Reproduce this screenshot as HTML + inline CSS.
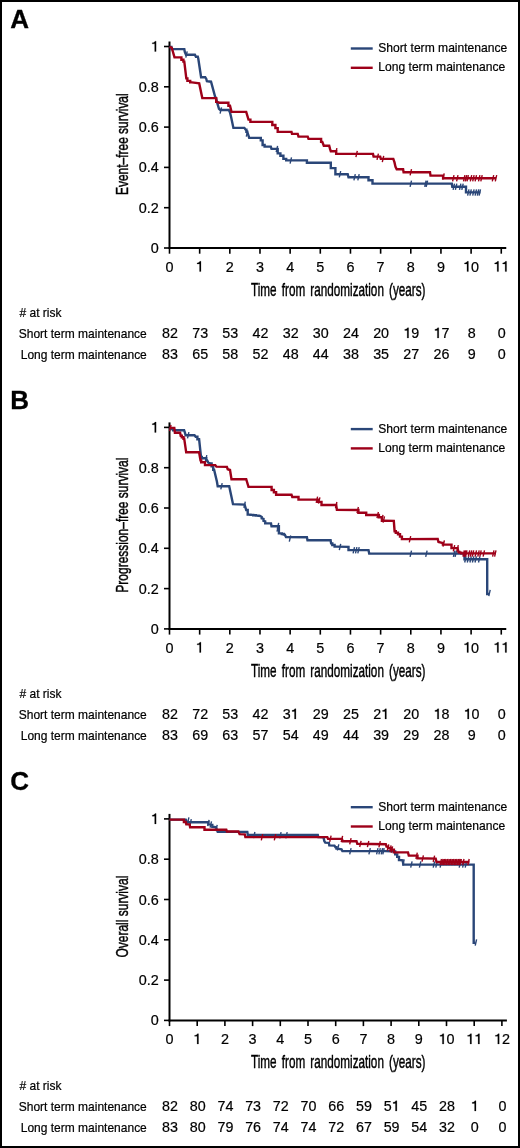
<!DOCTYPE html>
<html><head><meta charset="utf-8"><title>Survival curves</title>
<style>
html,body{margin:0;padding:0;background:#fff;}
body{width:520px;height:1148px;overflow:hidden;position:relative;}
svg{display:block;will-change:transform;}
.frame{position:absolute;left:0;top:0;width:520px;height:1148px;box-sizing:border-box;border:2px solid #000;}
text{font-family:"Liberation Sans", sans-serif;fill:#000;stroke:#000;stroke-width:0.2px;}
</style></head><body>
<svg width="520" height="1148" viewBox="0 0 520 1148">
<rect x="0" y="0" width="520" height="1148" fill="#fff"/>
<rect x="1" y="1" width="518" height="1146" fill="none" stroke="#000" stroke-width="2"/>
<text x="10.3" y="28" font-size="26" font-weight="bold" style="stroke-width:0.3px">A</text>
<line x1="350.8" x2="372.7" y1="48.5" y2="48.5" stroke="#2a4678" stroke-width="2.4"/>
<line x1="350.8" x2="372.7" y1="67.8" y2="67.8" stroke="#9e0019" stroke-width="2.4"/>
<text transform="translate(378.3,52.3) scale(1,1.11)" font-size="12.1">Short term maintenance</text>
<text transform="translate(378.3,71.3) scale(1,1.11)" font-size="12.1">Long term maintenance</text>
<line x1="169.5" x2="169.5" y1="41.5" y2="249" stroke="#000" stroke-width="2"/>
<line x1="168.5" x2="506.26" y1="248" y2="248" stroke="#000" stroke-width="2"/>
<line x1="164.0" x2="169.5" y1="248.00" y2="248.00" stroke="#000" stroke-width="1.6"/>
<text transform="translate(158.80,253.00) scale(1,1.04)" font-size="14.4" text-anchor="end">0</text>
<line x1="164.0" x2="169.5" y1="207.70" y2="207.70" stroke="#000" stroke-width="1.6"/>
<text transform="translate(158.80,212.70) scale(1,1.04)" font-size="14.4" text-anchor="end">0.2</text>
<line x1="164.0" x2="169.5" y1="167.40" y2="167.40" stroke="#000" stroke-width="1.6"/>
<text transform="translate(158.80,172.40) scale(1,1.04)" font-size="14.4" text-anchor="end">0.4</text>
<line x1="164.0" x2="169.5" y1="127.10" y2="127.10" stroke="#000" stroke-width="1.6"/>
<text transform="translate(158.80,132.10) scale(1,1.04)" font-size="14.4" text-anchor="end">0.6</text>
<line x1="164.0" x2="169.5" y1="86.80" y2="86.80" stroke="#000" stroke-width="1.6"/>
<text transform="translate(158.80,91.80) scale(1,1.04)" font-size="14.4" text-anchor="end">0.8</text>
<line x1="164.0" x2="169.5" y1="46.50" y2="46.50" stroke="#000" stroke-width="1.6"/>
<path transform="translate(150.79,51.50) scale(14.4,14.976)" d="M0.27,0 L0.37,0 L0.37,-0.69 L0.295,-0.69 C0.275,-0.63 0.21,-0.59 0.1,-0.58 L0.1,-0.51 L0.27,-0.51 Z" fill="#000" stroke="#000" stroke-width="0.0139"/>
<line x1="169.50" x2="169.50" y1="248" y2="253.7" stroke="#000" stroke-width="1.6"/>
<text transform="translate(169.50,271.60) scale(1,1.04)" font-size="14.4" text-anchor="middle">0</text>
<line x1="199.66" x2="199.66" y1="248" y2="253.7" stroke="#000" stroke-width="1.6"/>
<path transform="translate(195.66,271.60) scale(14.4,14.976)" d="M0.27,0 L0.37,0 L0.37,-0.69 L0.295,-0.69 C0.275,-0.63 0.21,-0.59 0.1,-0.58 L0.1,-0.51 L0.27,-0.51 Z" fill="#000" stroke="#000" stroke-width="0.0139"/>
<line x1="229.82" x2="229.82" y1="248" y2="253.7" stroke="#000" stroke-width="1.6"/>
<text transform="translate(229.82,271.60) scale(1,1.04)" font-size="14.4" text-anchor="middle">2</text>
<line x1="259.98" x2="259.98" y1="248" y2="253.7" stroke="#000" stroke-width="1.6"/>
<text transform="translate(259.98,271.60) scale(1,1.04)" font-size="14.4" text-anchor="middle">3</text>
<line x1="290.14" x2="290.14" y1="248" y2="253.7" stroke="#000" stroke-width="1.6"/>
<text transform="translate(290.14,271.60) scale(1,1.04)" font-size="14.4" text-anchor="middle">4</text>
<line x1="320.30" x2="320.30" y1="248" y2="253.7" stroke="#000" stroke-width="1.6"/>
<text transform="translate(320.30,271.60) scale(1,1.04)" font-size="14.4" text-anchor="middle">5</text>
<line x1="350.46" x2="350.46" y1="248" y2="253.7" stroke="#000" stroke-width="1.6"/>
<text transform="translate(350.46,271.60) scale(1,1.04)" font-size="14.4" text-anchor="middle">6</text>
<line x1="380.62" x2="380.62" y1="248" y2="253.7" stroke="#000" stroke-width="1.6"/>
<text transform="translate(380.62,271.60) scale(1,1.04)" font-size="14.4" text-anchor="middle">7</text>
<line x1="410.78" x2="410.78" y1="248" y2="253.7" stroke="#000" stroke-width="1.6"/>
<text transform="translate(410.78,271.60) scale(1,1.04)" font-size="14.4" text-anchor="middle">8</text>
<line x1="440.94" x2="440.94" y1="248" y2="253.7" stroke="#000" stroke-width="1.6"/>
<text transform="translate(440.94,271.60) scale(1,1.04)" font-size="14.4" text-anchor="middle">9</text>
<line x1="471.10" x2="471.10" y1="248" y2="253.7" stroke="#000" stroke-width="1.6"/>
<path transform="translate(463.09,271.60) scale(14.4,14.976)" d="M0.27,0 L0.37,0 L0.37,-0.69 L0.295,-0.69 C0.275,-0.63 0.21,-0.59 0.1,-0.58 L0.1,-0.51 L0.27,-0.51 Z" fill="#000" stroke="#000" stroke-width="0.0139"/>
<text transform="translate(471.10,271.60) scale(1,1.04)" font-size="14.4">0</text>
<line x1="501.26" x2="501.26" y1="248" y2="253.7" stroke="#000" stroke-width="1.6"/>
<path transform="translate(493.25,271.60) scale(14.4,14.976)" d="M0.27,0 L0.37,0 L0.37,-0.69 L0.295,-0.69 C0.275,-0.63 0.21,-0.59 0.1,-0.58 L0.1,-0.51 L0.27,-0.51 Z" fill="#000" stroke="#000" stroke-width="0.0139"/>
<path transform="translate(501.26,271.60) scale(14.4,14.976)" d="M0.27,0 L0.37,0 L0.37,-0.69 L0.295,-0.69 C0.275,-0.63 0.21,-0.59 0.1,-0.58 L0.1,-0.51 L0.27,-0.51 Z" fill="#000" stroke="#000" stroke-width="0.0139"/>
<text transform="translate(251,295.7) scale(0.64,1)" font-size="18.3" word-spacing="3" style="stroke-width:0.45px">Time from randomization (years)</text>
<text transform="translate(128,144.20) rotate(-90) scale(0.705,1)" font-size="17" style="stroke-width:0.45px" text-anchor="middle">Event&#8211;free survival</text>
<text transform="translate(19.5,316.5) scale(1,1.09)" font-size="12">&#35; at risk</text>
<text transform="translate(146.8,338.2) scale(1,1.09)" font-size="12" text-anchor="end">Short term maintenance</text>
<text transform="translate(146.8,358.9) scale(1,1.09)" font-size="12" text-anchor="end">Long term maintenance</text>
<text transform="translate(170.00,338.00) scale(1,1.04)" font-size="14.3" text-anchor="middle">82</text>
<text transform="translate(170.00,358.80) scale(1,1.04)" font-size="14.3" text-anchor="middle">83</text>
<text transform="translate(200.16,338.00) scale(1,1.04)" font-size="14.3" text-anchor="middle">73</text>
<text transform="translate(200.16,358.80) scale(1,1.04)" font-size="14.3" text-anchor="middle">65</text>
<text transform="translate(230.32,338.00) scale(1,1.04)" font-size="14.3" text-anchor="middle">53</text>
<text transform="translate(230.32,358.80) scale(1,1.04)" font-size="14.3" text-anchor="middle">58</text>
<text transform="translate(260.48,338.00) scale(1,1.04)" font-size="14.3" text-anchor="middle">42</text>
<text transform="translate(260.48,358.80) scale(1,1.04)" font-size="14.3" text-anchor="middle">52</text>
<text transform="translate(290.64,338.00) scale(1,1.04)" font-size="14.3" text-anchor="middle">32</text>
<text transform="translate(290.64,358.80) scale(1,1.04)" font-size="14.3" text-anchor="middle">48</text>
<text transform="translate(320.80,338.00) scale(1,1.04)" font-size="14.3" text-anchor="middle">30</text>
<text transform="translate(320.80,358.80) scale(1,1.04)" font-size="14.3" text-anchor="middle">44</text>
<text transform="translate(350.96,338.00) scale(1,1.04)" font-size="14.3" text-anchor="middle">24</text>
<text transform="translate(350.96,358.80) scale(1,1.04)" font-size="14.3" text-anchor="middle">38</text>
<text transform="translate(381.12,338.00) scale(1,1.04)" font-size="14.3" text-anchor="middle">20</text>
<text transform="translate(381.12,358.80) scale(1,1.04)" font-size="14.3" text-anchor="middle">35</text>
<path transform="translate(403.33,338.00) scale(14.3,14.872)" d="M0.27,0 L0.37,0 L0.37,-0.69 L0.295,-0.69 C0.275,-0.63 0.21,-0.59 0.1,-0.58 L0.1,-0.51 L0.27,-0.51 Z" fill="#000" stroke="#000" stroke-width="0.0140"/>
<text transform="translate(411.28,338.00) scale(1,1.04)" font-size="14.3">9</text>
<text transform="translate(411.28,358.80) scale(1,1.04)" font-size="14.3" text-anchor="middle">27</text>
<path transform="translate(433.49,338.00) scale(14.3,14.872)" d="M0.27,0 L0.37,0 L0.37,-0.69 L0.295,-0.69 C0.275,-0.63 0.21,-0.59 0.1,-0.58 L0.1,-0.51 L0.27,-0.51 Z" fill="#000" stroke="#000" stroke-width="0.0140"/>
<text transform="translate(441.44,338.00) scale(1,1.04)" font-size="14.3">7</text>
<text transform="translate(441.44,358.80) scale(1,1.04)" font-size="14.3" text-anchor="middle">26</text>
<text transform="translate(471.60,338.00) scale(1,1.04)" font-size="14.3" text-anchor="middle">8</text>
<text transform="translate(471.60,358.80) scale(1,1.04)" font-size="14.3" text-anchor="middle">9</text>
<text transform="translate(501.76,338.00) scale(1,1.04)" font-size="14.3" text-anchor="middle">0</text>
<text transform="translate(501.76,358.80) scale(1,1.04)" font-size="14.3" text-anchor="middle">0</text>
<path d="M169.5,46.9 L171.4,46.9 L171.4,49.1 L173.3,49.1 L184.3,49.1 L184.8,52.0 L186.0,54.8 L194.9,54.8 L195.9,56.8 L197.8,56.8 L198.3,58.7 L201.1,77.2 L205.2,77.2 L206.3,78.9 L206.9,81.2 L211.0,81.7 L211.5,83.4 L215.0,96.2 L216.1,98.4 L217.3,103.1 L219.0,108.9 L220.3,110.0 L228.8,110.0 L230.0,112.4 L231.1,116.9 L233.4,127.9 L244.4,127.9 L245.6,129.6 L246.4,129.6 L246.4,131.9 L247.3,131.9 L249.2,137.9 L260.0,137.9 L260.8,137.9 L260.8,140.4 L261.5,140.4 L262.6,140.4 L262.6,145.0 L263.8,145.0 L264.6,145.0 L264.6,146.6 L265.4,146.6 L270.8,146.6 L271.5,148.9 L276.2,148.9 L277.7,148.9 L277.7,153.4 L279.2,153.4 L280.4,153.4 L280.4,155.8 L281.5,155.8 L283.4,155.8 L283.4,158.9 L285.4,158.9 L286.2,158.9 L286.2,160.4 L287.0,160.4 L306.9,160.4 L306.9,162.7 L330.8,162.7 L330.8,168.1 L335.4,168.1 L335.4,174.2 L347.7,174.2 L348.5,177.2 L368.5,177.2 L368.5,180.2 L372.5,180.2 L372.5,183.6 L451.8,183.6 L452.3,186.8 L466.0,186.6 L466.0,192.4 L480.4,192.4" fill="none" stroke="#2a4678" stroke-width="2.4" stroke-linejoin="miter"/>
<path d="M185.8,57.6 L187.2,51.4 M220.1,113.6 L221.5,107.4 M246.3,136.6 L247.7,130.4 M276.2,152.1 L277.6,145.9 M290.1,163.6 L291.5,157.4 M339.3,177.4 L340.7,171.2 M353.9,180.4 L355.3,174.2 M357.8,180.4 L359.2,174.2 M410.1,186.8 L411.5,180.6 M424.7,186.8 L426.1,180.6 M426.2,186.8 L427.6,180.6 M453.1,189.8 L454.5,183.6 M455.4,189.8 L456.8,183.6 M459.5,189.8 L460.9,183.6 M461.8,189.8 L463.2,183.6 M467.6,195.6 L469.0,189.4 M469.9,195.6 L471.3,189.4 M472.7,195.6 L474.1,189.4 M475.1,195.6 L476.5,189.4 M477.3,195.6 L478.7,189.4 M479.1,195.6 L480.5,189.4" fill="none" stroke="#2a4678" stroke-width="1.4"/>
<path d="M169.5,46.9 L171.8,47.9 L174.5,57.4 L180.5,57.4 L181.4,57.4 L181.4,59.7 L182.4,59.7 L183.4,59.7 L183.4,61.6 L184.3,61.6 L186.3,78.4 L187.4,78.4 L187.4,80.9 L188.5,80.9 L190.2,80.9 L190.2,82.4 L192.0,82.4 L199.2,83.4 L202.3,98.1 L215.4,98.1 L216.2,98.1 L216.2,101.9 L217.0,101.9 L219.2,102.7 L226.9,102.7 L228.4,102.7 L228.4,105.8 L230.0,105.8 L231.5,111.9 L246.2,111.9 L248.5,119.6 L250.4,119.6 L250.4,121.9 L252.3,121.9 L270.8,121.9 L272.3,121.9 L272.3,125.0 L273.8,125.0 L275.4,125.0 L275.4,128.1 L276.9,128.1 L277.7,128.1 L277.7,131.9 L278.5,131.9 L291.5,131.9 L292.0,133.9 L297.7,133.9 L298.5,136.6 L307.7,136.6 L308.5,138.9 L320.0,138.9 L321.1,138.9 L321.1,141.9 L322.3,141.9 L323.8,145.8 L329.2,145.8 L330.0,148.9 L330.8,151.2 L335.4,151.2 L336.2,151.2 L336.2,153.9 L337.0,153.9 L373.0,153.9 L373.6,156.6 L380.2,156.6 L380.8,158.9 L393.3,158.9 L394.5,162.4 L395.5,166.9 L396.7,169.2 L403.1,169.2 L403.6,172.2 L430.0,172.2 L430.5,175.6 L442.3,175.6 L443.1,175.6 L443.1,178.2 L443.8,178.2 L496.0,178.2" fill="none" stroke="#9e0019" stroke-width="2.4" stroke-linejoin="miter"/>
<path d="M335.5,154.4 L336.9,148.2 M355.9,157.1 L357.3,150.9 M377.0,159.8 L378.4,153.6 M382.3,162.1 L383.7,155.9 M410.1,175.4 L411.5,169.2 M442.8,179.6 L444.2,173.4 M452.6,181.4 L454.0,175.2 M456.6,181.4 L458.0,175.2 M463.5,181.4 L464.9,175.2 M465.3,181.4 L466.7,175.2 M467.0,181.4 L468.4,175.2 M470.3,181.4 L471.7,175.2 M472.7,181.4 L474.1,175.2 M475.1,181.4 L476.5,175.2 M478.5,181.4 L479.9,175.2 M480.8,181.4 L482.2,175.2 M492.3,181.4 L493.7,175.2 M495.3,181.4 L496.7,175.2" fill="none" stroke="#9e0019" stroke-width="1.4"/>
<text x="10.3" y="408.9" font-size="26" font-weight="bold" style="stroke-width:0.3px">B</text>
<line x1="350.8" x2="372.7" y1="429.1" y2="429.1" stroke="#2a4678" stroke-width="2.4"/>
<line x1="350.8" x2="372.7" y1="448.40000000000003" y2="448.40000000000003" stroke="#9e0019" stroke-width="2.4"/>
<text transform="translate(378.3,432.90000000000003) scale(1,1.11)" font-size="12.1">Short term maintenance</text>
<text transform="translate(378.3,451.90000000000003) scale(1,1.11)" font-size="12.1">Long term maintenance</text>
<line x1="169.5" x2="169.5" y1="422.4" y2="629.9" stroke="#000" stroke-width="2"/>
<line x1="168.5" x2="506.26" y1="628.9" y2="628.9" stroke="#000" stroke-width="2"/>
<line x1="164.0" x2="169.5" y1="628.90" y2="628.90" stroke="#000" stroke-width="1.6"/>
<text transform="translate(158.80,633.90) scale(1,1.04)" font-size="14.4" text-anchor="end">0</text>
<line x1="164.0" x2="169.5" y1="588.60" y2="588.60" stroke="#000" stroke-width="1.6"/>
<text transform="translate(158.80,593.60) scale(1,1.04)" font-size="14.4" text-anchor="end">0.2</text>
<line x1="164.0" x2="169.5" y1="548.30" y2="548.30" stroke="#000" stroke-width="1.6"/>
<text transform="translate(158.80,553.30) scale(1,1.04)" font-size="14.4" text-anchor="end">0.4</text>
<line x1="164.0" x2="169.5" y1="508.00" y2="508.00" stroke="#000" stroke-width="1.6"/>
<text transform="translate(158.80,513.00) scale(1,1.04)" font-size="14.4" text-anchor="end">0.6</text>
<line x1="164.0" x2="169.5" y1="467.70" y2="467.70" stroke="#000" stroke-width="1.6"/>
<text transform="translate(158.80,472.70) scale(1,1.04)" font-size="14.4" text-anchor="end">0.8</text>
<line x1="164.0" x2="169.5" y1="427.40" y2="427.40" stroke="#000" stroke-width="1.6"/>
<path transform="translate(150.79,432.40) scale(14.4,14.976)" d="M0.27,0 L0.37,0 L0.37,-0.69 L0.295,-0.69 C0.275,-0.63 0.21,-0.59 0.1,-0.58 L0.1,-0.51 L0.27,-0.51 Z" fill="#000" stroke="#000" stroke-width="0.0139"/>
<line x1="169.50" x2="169.50" y1="628.9" y2="634.6" stroke="#000" stroke-width="1.6"/>
<text transform="translate(169.50,652.50) scale(1,1.04)" font-size="14.4" text-anchor="middle">0</text>
<line x1="199.66" x2="199.66" y1="628.9" y2="634.6" stroke="#000" stroke-width="1.6"/>
<path transform="translate(195.66,652.50) scale(14.4,14.976)" d="M0.27,0 L0.37,0 L0.37,-0.69 L0.295,-0.69 C0.275,-0.63 0.21,-0.59 0.1,-0.58 L0.1,-0.51 L0.27,-0.51 Z" fill="#000" stroke="#000" stroke-width="0.0139"/>
<line x1="229.82" x2="229.82" y1="628.9" y2="634.6" stroke="#000" stroke-width="1.6"/>
<text transform="translate(229.82,652.50) scale(1,1.04)" font-size="14.4" text-anchor="middle">2</text>
<line x1="259.98" x2="259.98" y1="628.9" y2="634.6" stroke="#000" stroke-width="1.6"/>
<text transform="translate(259.98,652.50) scale(1,1.04)" font-size="14.4" text-anchor="middle">3</text>
<line x1="290.14" x2="290.14" y1="628.9" y2="634.6" stroke="#000" stroke-width="1.6"/>
<text transform="translate(290.14,652.50) scale(1,1.04)" font-size="14.4" text-anchor="middle">4</text>
<line x1="320.30" x2="320.30" y1="628.9" y2="634.6" stroke="#000" stroke-width="1.6"/>
<text transform="translate(320.30,652.50) scale(1,1.04)" font-size="14.4" text-anchor="middle">5</text>
<line x1="350.46" x2="350.46" y1="628.9" y2="634.6" stroke="#000" stroke-width="1.6"/>
<text transform="translate(350.46,652.50) scale(1,1.04)" font-size="14.4" text-anchor="middle">6</text>
<line x1="380.62" x2="380.62" y1="628.9" y2="634.6" stroke="#000" stroke-width="1.6"/>
<text transform="translate(380.62,652.50) scale(1,1.04)" font-size="14.4" text-anchor="middle">7</text>
<line x1="410.78" x2="410.78" y1="628.9" y2="634.6" stroke="#000" stroke-width="1.6"/>
<text transform="translate(410.78,652.50) scale(1,1.04)" font-size="14.4" text-anchor="middle">8</text>
<line x1="440.94" x2="440.94" y1="628.9" y2="634.6" stroke="#000" stroke-width="1.6"/>
<text transform="translate(440.94,652.50) scale(1,1.04)" font-size="14.4" text-anchor="middle">9</text>
<line x1="471.10" x2="471.10" y1="628.9" y2="634.6" stroke="#000" stroke-width="1.6"/>
<path transform="translate(463.09,652.50) scale(14.4,14.976)" d="M0.27,0 L0.37,0 L0.37,-0.69 L0.295,-0.69 C0.275,-0.63 0.21,-0.59 0.1,-0.58 L0.1,-0.51 L0.27,-0.51 Z" fill="#000" stroke="#000" stroke-width="0.0139"/>
<text transform="translate(471.10,652.50) scale(1,1.04)" font-size="14.4">0</text>
<line x1="501.26" x2="501.26" y1="628.9" y2="634.6" stroke="#000" stroke-width="1.6"/>
<path transform="translate(493.25,652.50) scale(14.4,14.976)" d="M0.27,0 L0.37,0 L0.37,-0.69 L0.295,-0.69 C0.275,-0.63 0.21,-0.59 0.1,-0.58 L0.1,-0.51 L0.27,-0.51 Z" fill="#000" stroke="#000" stroke-width="0.0139"/>
<path transform="translate(501.26,652.50) scale(14.4,14.976)" d="M0.27,0 L0.37,0 L0.37,-0.69 L0.295,-0.69 C0.275,-0.63 0.21,-0.59 0.1,-0.58 L0.1,-0.51 L0.27,-0.51 Z" fill="#000" stroke="#000" stroke-width="0.0139"/>
<text transform="translate(251,676.6) scale(0.64,1)" font-size="18.3" word-spacing="3" style="stroke-width:0.45px">Time from randomization (years)</text>
<text transform="translate(128,525.10) rotate(-90) scale(0.705,1)" font-size="17" style="stroke-width:0.45px" text-anchor="middle">Progression&#8211;free survival</text>
<text transform="translate(19.5,697.5) scale(1,1.09)" font-size="12">&#35; at risk</text>
<text transform="translate(146.8,719.2) scale(1,1.09)" font-size="12" text-anchor="end">Short term maintenance</text>
<text transform="translate(146.8,739.9) scale(1,1.09)" font-size="12" text-anchor="end">Long term maintenance</text>
<text transform="translate(170.00,719.00) scale(1,1.04)" font-size="14.3" text-anchor="middle">82</text>
<text transform="translate(170.00,739.80) scale(1,1.04)" font-size="14.3" text-anchor="middle">83</text>
<text transform="translate(200.16,719.00) scale(1,1.04)" font-size="14.3" text-anchor="middle">72</text>
<text transform="translate(200.16,739.80) scale(1,1.04)" font-size="14.3" text-anchor="middle">69</text>
<text transform="translate(230.32,719.00) scale(1,1.04)" font-size="14.3" text-anchor="middle">53</text>
<text transform="translate(230.32,739.80) scale(1,1.04)" font-size="14.3" text-anchor="middle">63</text>
<text transform="translate(260.48,719.00) scale(1,1.04)" font-size="14.3" text-anchor="middle">42</text>
<text transform="translate(260.48,739.80) scale(1,1.04)" font-size="14.3" text-anchor="middle">57</text>
<text transform="translate(282.69,719.00) scale(1,1.04)" font-size="14.3">3</text>
<path transform="translate(290.64,719.00) scale(14.3,14.872)" d="M0.27,0 L0.37,0 L0.37,-0.69 L0.295,-0.69 C0.275,-0.63 0.21,-0.59 0.1,-0.58 L0.1,-0.51 L0.27,-0.51 Z" fill="#000" stroke="#000" stroke-width="0.0140"/>
<text transform="translate(290.64,739.80) scale(1,1.04)" font-size="14.3" text-anchor="middle">54</text>
<text transform="translate(320.80,719.00) scale(1,1.04)" font-size="14.3" text-anchor="middle">29</text>
<text transform="translate(320.80,739.80) scale(1,1.04)" font-size="14.3" text-anchor="middle">49</text>
<text transform="translate(350.96,719.00) scale(1,1.04)" font-size="14.3" text-anchor="middle">25</text>
<text transform="translate(350.96,739.80) scale(1,1.04)" font-size="14.3" text-anchor="middle">44</text>
<text transform="translate(373.17,719.00) scale(1,1.04)" font-size="14.3">2</text>
<path transform="translate(381.12,719.00) scale(14.3,14.872)" d="M0.27,0 L0.37,0 L0.37,-0.69 L0.295,-0.69 C0.275,-0.63 0.21,-0.59 0.1,-0.58 L0.1,-0.51 L0.27,-0.51 Z" fill="#000" stroke="#000" stroke-width="0.0140"/>
<text transform="translate(381.12,739.80) scale(1,1.04)" font-size="14.3" text-anchor="middle">39</text>
<text transform="translate(411.28,719.00) scale(1,1.04)" font-size="14.3" text-anchor="middle">20</text>
<text transform="translate(411.28,739.80) scale(1,1.04)" font-size="14.3" text-anchor="middle">29</text>
<path transform="translate(433.49,719.00) scale(14.3,14.872)" d="M0.27,0 L0.37,0 L0.37,-0.69 L0.295,-0.69 C0.275,-0.63 0.21,-0.59 0.1,-0.58 L0.1,-0.51 L0.27,-0.51 Z" fill="#000" stroke="#000" stroke-width="0.0140"/>
<text transform="translate(441.44,719.00) scale(1,1.04)" font-size="14.3">8</text>
<text transform="translate(441.44,739.80) scale(1,1.04)" font-size="14.3" text-anchor="middle">28</text>
<path transform="translate(463.65,719.00) scale(14.3,14.872)" d="M0.27,0 L0.37,0 L0.37,-0.69 L0.295,-0.69 C0.275,-0.63 0.21,-0.59 0.1,-0.58 L0.1,-0.51 L0.27,-0.51 Z" fill="#000" stroke="#000" stroke-width="0.0140"/>
<text transform="translate(471.60,719.00) scale(1,1.04)" font-size="14.3">0</text>
<text transform="translate(471.60,739.80) scale(1,1.04)" font-size="14.3" text-anchor="middle">9</text>
<text transform="translate(501.76,719.00) scale(1,1.04)" font-size="14.3" text-anchor="middle">0</text>
<text transform="translate(501.76,739.80) scale(1,1.04)" font-size="14.3" text-anchor="middle">0</text>
<path d="M169.5,427.9 L170.7,427.9 L170.7,429.0 L173.2,429.0 L173.2,430.2 L174.4,430.2 L184.1,430.2 L185.0,432.9 L185.6,435.2 L194.5,435.2 L195.7,436.8 L197.4,436.8 L197.4,439.2 L199.1,439.2 L201.0,456.9 L201.8,456.9 L201.8,458.2 L202.6,458.2 L205.5,458.2 L206.3,458.2 L206.3,460.5 L207.2,460.5 L208.4,462.8 L210.7,463.4 L211.6,463.4 L211.6,466.2 L212.4,466.2 L213.2,466.2 L213.2,469.7 L214.1,469.7 L216.9,481.6 L217.7,486.2 L229.2,486.2 L231.5,496.9 L233.0,504.2 L244.6,504.6 L246.2,510.0 L247.7,510.0 L247.7,514.6 L249.2,514.6 L250.5,514.6 L250.5,514.9 L253.2,514.9 L253.2,515.2 L255.9,515.2 L255.9,515.6 L258.6,515.6 L258.6,515.9 L260.0,515.9 L261.7,516.9 L261.7,518.4 L263.5,518.9 L263.5,520.8 L265.2,521.4 L265.2,523.4 L271.0,523.4 L271.5,526.2 L277.0,526.2 L278.9,526.2 L278.9,533.4 L280.8,533.4 L281.8,533.4 L281.8,534.0 L283.8,534.0 L283.8,534.6 L284.8,534.6 L286.0,537.0 L306.9,537.2 L307.5,540.2 L330.6,540.2 L331.1,543.4 L332.3,543.4 L332.3,545.0 L334.6,545.0 L334.6,546.6 L335.8,546.6 L348.5,546.9 L348.5,550.1 L368.5,550.1 L369.2,553.6 L464.5,553.6 L464.5,559.3 L487.2,559.3 L487.2,594.0 L489.0,594.0" fill="none" stroke="#2a4678" stroke-width="2.4" stroke-linejoin="miter"/>
<path d="M187.5,438.3 L188.9,432.1 M205.4,461.4 L206.8,455.2 M220.8,489.4 L222.2,483.2 M243.9,507.8 L245.3,501.6 M277.3,529.0 L278.7,522.8 M277.0,531.6 L278.4,525.4 M289.3,541.7 L290.7,535.5 M339.3,550.1 L340.7,543.9 M353.1,553.3 L354.5,547.1 M355.5,553.3 L356.9,547.1 M357.8,553.3 L359.2,547.1 M410.1,556.8 L411.5,550.6 M425.7,556.8 L427.1,550.6 M453.4,556.8 L454.8,550.6 M455.1,556.8 L456.5,550.6 M464.7,562.5 L466.1,556.3 M467.3,562.5 L468.7,556.3 M469.9,562.5 L471.3,556.3 M472.4,562.5 L473.8,556.3 M475.0,562.5 L476.4,556.3 M478.5,562.5 L479.9,556.3 M488.8,596.1 L490.2,589.9" fill="none" stroke="#2a4678" stroke-width="1.4"/>
<path d="M169.5,427.9 L174.3,427.9 L174.9,432.8 L180.1,432.8 L180.7,435.7 L181.8,435.7 L181.8,437.2 L182.8,437.2 L183.5,437.2 L183.5,438.7 L184.2,438.7 L186.2,452.3 L199.1,452.3 L200.5,460.4 L201.2,460.4 L201.2,462.2 L202.0,462.2 L204.0,462.2 L205.0,462.2 L205.0,465.1 L206.0,465.1 L215.3,465.1 L216.4,466.6 L226.9,466.9 L227.7,469.2 L230.0,470.0 L231.5,479.2 L246.2,479.2 L248.5,486.9 L270.8,486.9 L271.6,486.9 L271.6,490.0 L272.3,490.0 L273.9,490.0 L273.9,492.3 L275.4,492.3 L276.1,492.3 L276.1,494.8 L276.9,494.8 L291.5,494.8 L292.3,497.0 L298.5,497.0 L298.5,499.6 L316.2,499.6 L318.1,499.6 L318.1,501.9 L320.0,501.9 L321.5,501.9 L321.5,505.0 L323.0,505.0 L336.2,505.0 L336.9,509.9 L357.7,510.0 L358.4,510.0 L358.4,512.7 L359.2,512.7 L366.2,512.7 L366.2,515.0 L377.7,515.0 L378.9,515.0 L378.9,517.3 L380.0,517.3 L381.9,517.3 L381.9,520.7 L383.8,520.7 L393.8,520.9 L394.6,531.2 L395.8,531.2 L395.8,532.7 L396.9,532.7 L398.0,532.7 L398.0,534.2 L399.2,534.2 L400.0,534.2 L400.0,536.6 L400.8,536.6 L401.9,536.6 L401.9,539.1 L403.0,539.1 L437.7,538.9 L438.5,542.0 L442.0,542.9 L442.9,542.9 L442.9,544.6 L443.7,544.6 L451.5,544.6 L451.5,548.1 L457.6,548.1 L458.4,551.9 L459.4,551.9 L459.4,552.6 L461.3,552.6 L461.3,553.4 L462.3,553.4 L495.6,553.4" fill="none" stroke="#9e0019" stroke-width="2.4" stroke-linejoin="miter"/>
<path d="M169.6,431.1 L171.0,424.9 M316.2,502.8 L317.6,496.6 M318.5,503.6 L319.9,497.4 M335.5,508.2 L336.9,502.0 M357.0,513.2 L358.4,507.0 M377.0,518.2 L378.4,512.0 M381.6,521.1 L383.0,514.9 M383.1,522.6 L384.5,516.4 M409.3,542.3 L410.7,536.1 M443.0,546.6 L444.4,540.4 M453.3,551.3 L454.7,545.1 M456.9,551.3 L458.3,545.1 M462.9,556.6 L464.3,550.4 M464.3,556.6 L465.7,550.4 M465.6,556.6 L467.0,550.4 M468.3,556.6 L469.7,550.4 M470.3,556.6 L471.7,550.4 M472.3,556.6 L473.7,550.4 M475.1,556.6 L476.5,550.4 M477.8,556.6 L479.2,550.4 M479.8,556.6 L481.2,550.4 M483.1,556.6 L484.5,550.4 M492.6,556.6 L494.0,550.4 M494.6,556.6 L496.0,550.4" fill="none" stroke="#9e0019" stroke-width="1.4"/>
<text x="10.3" y="789.7" font-size="26" font-weight="bold" style="stroke-width:0.3px">C</text>
<line x1="350.8" x2="372.7" y1="807.2" y2="807.2" stroke="#2a4678" stroke-width="2.4"/>
<line x1="350.8" x2="372.7" y1="826.5" y2="826.5" stroke="#9e0019" stroke-width="2.4"/>
<text transform="translate(378.3,811.0) scale(1,1.11)" font-size="12.1">Short term maintenance</text>
<text transform="translate(378.3,830.0) scale(1,1.11)" font-size="12.1">Long term maintenance</text>
<line x1="169.5" x2="169.5" y1="813.9" y2="1021.4" stroke="#000" stroke-width="2"/>
<line x1="168.5" x2="506.9" y1="1020.4" y2="1020.4" stroke="#000" stroke-width="2"/>
<line x1="164.0" x2="169.5" y1="1020.40" y2="1020.40" stroke="#000" stroke-width="1.6"/>
<text transform="translate(158.80,1025.40) scale(1,1.04)" font-size="14.4" text-anchor="end">0</text>
<line x1="164.0" x2="169.5" y1="980.10" y2="980.10" stroke="#000" stroke-width="1.6"/>
<text transform="translate(158.80,985.10) scale(1,1.04)" font-size="14.4" text-anchor="end">0.2</text>
<line x1="164.0" x2="169.5" y1="939.80" y2="939.80" stroke="#000" stroke-width="1.6"/>
<text transform="translate(158.80,944.80) scale(1,1.04)" font-size="14.4" text-anchor="end">0.4</text>
<line x1="164.0" x2="169.5" y1="899.50" y2="899.50" stroke="#000" stroke-width="1.6"/>
<text transform="translate(158.80,904.50) scale(1,1.04)" font-size="14.4" text-anchor="end">0.6</text>
<line x1="164.0" x2="169.5" y1="859.20" y2="859.20" stroke="#000" stroke-width="1.6"/>
<text transform="translate(158.80,864.20) scale(1,1.04)" font-size="14.4" text-anchor="end">0.8</text>
<line x1="164.0" x2="169.5" y1="818.90" y2="818.90" stroke="#000" stroke-width="1.6"/>
<path transform="translate(150.79,823.90) scale(14.4,14.976)" d="M0.27,0 L0.37,0 L0.37,-0.69 L0.295,-0.69 C0.275,-0.63 0.21,-0.59 0.1,-0.58 L0.1,-0.51 L0.27,-0.51 Z" fill="#000" stroke="#000" stroke-width="0.0139"/>
<line x1="169.50" x2="169.50" y1="1020.4" y2="1026.1" stroke="#000" stroke-width="1.6"/>
<text transform="translate(169.50,1044.00) scale(1,1.04)" font-size="14.4" text-anchor="middle">0</text>
<line x1="197.20" x2="197.20" y1="1020.4" y2="1026.1" stroke="#000" stroke-width="1.6"/>
<path transform="translate(193.20,1044.00) scale(14.4,14.976)" d="M0.27,0 L0.37,0 L0.37,-0.69 L0.295,-0.69 C0.275,-0.63 0.21,-0.59 0.1,-0.58 L0.1,-0.51 L0.27,-0.51 Z" fill="#000" stroke="#000" stroke-width="0.0139"/>
<line x1="224.90" x2="224.90" y1="1020.4" y2="1026.1" stroke="#000" stroke-width="1.6"/>
<text transform="translate(224.90,1044.00) scale(1,1.04)" font-size="14.4" text-anchor="middle">2</text>
<line x1="252.60" x2="252.60" y1="1020.4" y2="1026.1" stroke="#000" stroke-width="1.6"/>
<text transform="translate(252.60,1044.00) scale(1,1.04)" font-size="14.4" text-anchor="middle">3</text>
<line x1="280.30" x2="280.30" y1="1020.4" y2="1026.1" stroke="#000" stroke-width="1.6"/>
<text transform="translate(280.30,1044.00) scale(1,1.04)" font-size="14.4" text-anchor="middle">4</text>
<line x1="308.00" x2="308.00" y1="1020.4" y2="1026.1" stroke="#000" stroke-width="1.6"/>
<text transform="translate(308.00,1044.00) scale(1,1.04)" font-size="14.4" text-anchor="middle">5</text>
<line x1="335.70" x2="335.70" y1="1020.4" y2="1026.1" stroke="#000" stroke-width="1.6"/>
<text transform="translate(335.70,1044.00) scale(1,1.04)" font-size="14.4" text-anchor="middle">6</text>
<line x1="363.40" x2="363.40" y1="1020.4" y2="1026.1" stroke="#000" stroke-width="1.6"/>
<text transform="translate(363.40,1044.00) scale(1,1.04)" font-size="14.4" text-anchor="middle">7</text>
<line x1="391.10" x2="391.10" y1="1020.4" y2="1026.1" stroke="#000" stroke-width="1.6"/>
<text transform="translate(391.10,1044.00) scale(1,1.04)" font-size="14.4" text-anchor="middle">8</text>
<line x1="418.80" x2="418.80" y1="1020.4" y2="1026.1" stroke="#000" stroke-width="1.6"/>
<text transform="translate(418.80,1044.00) scale(1,1.04)" font-size="14.4" text-anchor="middle">9</text>
<line x1="446.50" x2="446.50" y1="1020.4" y2="1026.1" stroke="#000" stroke-width="1.6"/>
<path transform="translate(438.49,1044.00) scale(14.4,14.976)" d="M0.27,0 L0.37,0 L0.37,-0.69 L0.295,-0.69 C0.275,-0.63 0.21,-0.59 0.1,-0.58 L0.1,-0.51 L0.27,-0.51 Z" fill="#000" stroke="#000" stroke-width="0.0139"/>
<text transform="translate(446.50,1044.00) scale(1,1.04)" font-size="14.4">0</text>
<line x1="474.20" x2="474.20" y1="1020.4" y2="1026.1" stroke="#000" stroke-width="1.6"/>
<path transform="translate(466.19,1044.00) scale(14.4,14.976)" d="M0.27,0 L0.37,0 L0.37,-0.69 L0.295,-0.69 C0.275,-0.63 0.21,-0.59 0.1,-0.58 L0.1,-0.51 L0.27,-0.51 Z" fill="#000" stroke="#000" stroke-width="0.0139"/>
<path transform="translate(474.20,1044.00) scale(14.4,14.976)" d="M0.27,0 L0.37,0 L0.37,-0.69 L0.295,-0.69 C0.275,-0.63 0.21,-0.59 0.1,-0.58 L0.1,-0.51 L0.27,-0.51 Z" fill="#000" stroke="#000" stroke-width="0.0139"/>
<line x1="501.90" x2="501.90" y1="1020.4" y2="1026.1" stroke="#000" stroke-width="1.6"/>
<path transform="translate(493.89,1044.00) scale(14.4,14.976)" d="M0.27,0 L0.37,0 L0.37,-0.69 L0.295,-0.69 C0.275,-0.63 0.21,-0.59 0.1,-0.58 L0.1,-0.51 L0.27,-0.51 Z" fill="#000" stroke="#000" stroke-width="0.0139"/>
<text transform="translate(501.90,1044.00) scale(1,1.04)" font-size="14.4">2</text>
<text transform="translate(251,1068.1000000000001) scale(0.64,1)" font-size="18.3" word-spacing="3" style="stroke-width:0.45px">Time from randomization (years)</text>
<text transform="translate(128,916.60) rotate(-90) scale(0.705,1)" font-size="17" style="stroke-width:0.45px" text-anchor="middle">Overall survival</text>
<text transform="translate(19.5,1089.5) scale(1,1.09)" font-size="12">&#35; at risk</text>
<text transform="translate(146.8,1111.2) scale(1,1.09)" font-size="12" text-anchor="end">Short term maintenance</text>
<text transform="translate(146.8,1131.9) scale(1,1.09)" font-size="12" text-anchor="end">Long term maintenance</text>
<text transform="translate(170.00,1111.00) scale(1,1.04)" font-size="14.3" text-anchor="middle">82</text>
<text transform="translate(170.00,1131.80) scale(1,1.04)" font-size="14.3" text-anchor="middle">83</text>
<text transform="translate(197.70,1111.00) scale(1,1.04)" font-size="14.3" text-anchor="middle">80</text>
<text transform="translate(197.70,1131.80) scale(1,1.04)" font-size="14.3" text-anchor="middle">80</text>
<text transform="translate(225.40,1111.00) scale(1,1.04)" font-size="14.3" text-anchor="middle">74</text>
<text transform="translate(225.40,1131.80) scale(1,1.04)" font-size="14.3" text-anchor="middle">79</text>
<text transform="translate(253.10,1111.00) scale(1,1.04)" font-size="14.3" text-anchor="middle">73</text>
<text transform="translate(253.10,1131.80) scale(1,1.04)" font-size="14.3" text-anchor="middle">76</text>
<text transform="translate(280.80,1111.00) scale(1,1.04)" font-size="14.3" text-anchor="middle">72</text>
<text transform="translate(280.80,1131.80) scale(1,1.04)" font-size="14.3" text-anchor="middle">74</text>
<text transform="translate(308.50,1111.00) scale(1,1.04)" font-size="14.3" text-anchor="middle">70</text>
<text transform="translate(308.50,1131.80) scale(1,1.04)" font-size="14.3" text-anchor="middle">74</text>
<text transform="translate(336.20,1111.00) scale(1,1.04)" font-size="14.3" text-anchor="middle">66</text>
<text transform="translate(336.20,1131.80) scale(1,1.04)" font-size="14.3" text-anchor="middle">72</text>
<text transform="translate(363.90,1111.00) scale(1,1.04)" font-size="14.3" text-anchor="middle">59</text>
<text transform="translate(363.90,1131.80) scale(1,1.04)" font-size="14.3" text-anchor="middle">67</text>
<text transform="translate(383.65,1111.00) scale(1,1.04)" font-size="14.3">5</text>
<path transform="translate(391.60,1111.00) scale(14.3,14.872)" d="M0.27,0 L0.37,0 L0.37,-0.69 L0.295,-0.69 C0.275,-0.63 0.21,-0.59 0.1,-0.58 L0.1,-0.51 L0.27,-0.51 Z" fill="#000" stroke="#000" stroke-width="0.0140"/>
<text transform="translate(391.60,1131.80) scale(1,1.04)" font-size="14.3" text-anchor="middle">59</text>
<text transform="translate(419.30,1111.00) scale(1,1.04)" font-size="14.3" text-anchor="middle">45</text>
<text transform="translate(419.30,1131.80) scale(1,1.04)" font-size="14.3" text-anchor="middle">54</text>
<text transform="translate(447.00,1111.00) scale(1,1.04)" font-size="14.3" text-anchor="middle">28</text>
<text transform="translate(447.00,1131.80) scale(1,1.04)" font-size="14.3" text-anchor="middle">32</text>
<path transform="translate(470.72,1111.00) scale(14.3,14.872)" d="M0.27,0 L0.37,0 L0.37,-0.69 L0.295,-0.69 C0.275,-0.63 0.21,-0.59 0.1,-0.58 L0.1,-0.51 L0.27,-0.51 Z" fill="#000" stroke="#000" stroke-width="0.0140"/>
<text transform="translate(474.70,1131.80) scale(1,1.04)" font-size="14.3" text-anchor="middle">0</text>
<text transform="translate(502.40,1111.00) scale(1,1.04)" font-size="14.3" text-anchor="middle">0</text>
<text transform="translate(502.40,1131.80) scale(1,1.04)" font-size="14.3" text-anchor="middle">0</text>
<path d="M169.5,819.6 L185.8,819.6 L187.0,822.2 L207.4,822.2 L208.4,822.2 L208.4,824.4 L209.3,824.4 L211.5,824.9 L212.3,824.9 L212.3,826.8 L213.2,826.8 L216.0,827.4 L217.7,831.9 L247.3,831.9 L247.8,835.0 L317.8,835.0 L318.3,837.0 L323.5,837.2 L324.3,841.0 L325.3,842.7 L328.9,842.9 L329.3,845.4 L334.4,845.6 L335.5,847.2 L336.5,847.2 L336.5,848.6 L337.5,848.6 L341.5,849.4 L342.4,851.1 L385.8,851.1 L391.0,851.2 L394.4,851.5 L395.2,851.5 L395.2,854.4 L396.1,854.4 L397.2,854.4 L397.2,856.9 L398.3,856.9 L399.0,856.9 L399.0,860.0 L399.6,860.0 L402.6,860.4 L403.4,864.6 L473.7,864.6 L473.7,942.9 L475.5,942.9" fill="none" stroke="#2a4678" stroke-width="2.4" stroke-linejoin="miter"/>
<path d="M187.5,823.6 L188.9,817.4 M189.9,825.4 L191.3,819.2 M207.7,826.1 L209.1,819.9 M210.1,827.6 L211.5,821.4 M215.8,831.1 L217.2,824.9 M253.5,838.2 L254.9,832.0 M279.7,838.4 L281.1,832.2 M285.8,838.4 L287.2,832.2 M337.4,850.5 L338.8,844.3 M349.7,854.4 L351.1,848.2 M368.9,854.4 L370.3,848.2 M376.6,854.4 L378.0,848.2 M378.9,854.4 L380.3,848.2 M381.2,854.4 L382.6,848.2 M382.8,854.4 L384.2,848.2 M402.8,865.6 L404.2,859.4 M410.7,867.6 L412.1,861.4 M419.4,867.6 L420.8,861.4 M433.2,867.6 L434.6,861.4 M435.8,867.6 L437.2,861.4 M440.1,867.6 L441.5,861.4 M459.2,867.6 L460.6,861.4 M462.6,867.6 L464.0,861.4 M465.2,867.6 L466.6,861.4 M475.2,945.6 L476.6,939.4" fill="none" stroke="#2a4678" stroke-width="1.4"/>
<path d="M169.5,819.6 L183.9,819.6 L183.9,822.0 L185.8,822.0 L186.3,824.4 L189.6,824.4 L190.1,827.3 L204.5,827.3 L204.5,829.7 L226.3,829.7 L226.9,831.5 L238.4,831.5 L239.6,834.2 L244.8,834.4 L245.4,837.1 L317.3,837.1 L327.3,837.1 L328.0,838.7 L341.9,838.9 L342.7,841.2 L356.5,841.2 L357.3,843.8 L385.8,844.2 L386.5,846.6 L388.1,846.6 L388.1,848.1 L391.1,848.1 L391.1,849.6 L392.7,849.6 L393.9,849.6 L393.9,852.4 L395.0,852.4 L408.0,852.4 L408.8,855.6 L416.6,855.6 L417.5,855.6 L417.5,858.2 L418.4,858.2 L435.7,858.6 L436.5,862.0 L469.4,862.0" fill="none" stroke="#9e0019" stroke-width="2.4" stroke-linejoin="miter"/>
<path d="M261.3,840.3 L262.7,834.1 M274.3,840.3 L275.7,834.1 M329.7,841.9 L331.1,835.7 M341.2,842.1 L342.6,835.9 M349.7,844.4 L351.1,838.2 M359.7,847.0 L361.1,840.8 M367.4,847.2 L368.8,841.0 M378.9,847.4 L380.3,841.2 M387.3,850.6 L388.7,844.4 M389.7,851.6 L391.1,845.4 M391.2,852.6 L392.6,846.4 M415.9,858.8 L417.3,852.6 M422.0,861.6 L423.4,855.4 M433.2,861.8 L434.6,855.6 M440.1,865.2 L441.5,859.0 M441.7,865.2 L443.1,859.0 M443.2,865.2 L444.6,859.0 M444.7,865.2 L446.1,859.0 M446.3,865.2 L447.7,859.0 M447.9,865.2 L449.3,859.0 M449.4,865.2 L450.8,859.0 M451.0,865.2 L452.4,859.0 M452.5,865.2 L453.9,859.0 M454.1,865.2 L455.5,859.0 M455.6,865.2 L457.0,859.0 M457.2,865.2 L458.6,859.0 M458.7,865.2 L460.1,859.0 M460.0,865.2 L461.4,859.0 M462.6,865.2 L464.0,859.0 M467.8,865.2 L469.2,859.0" fill="none" stroke="#9e0019" stroke-width="1.4"/>
</svg>
<div class="frame"></div>
</body></html>
